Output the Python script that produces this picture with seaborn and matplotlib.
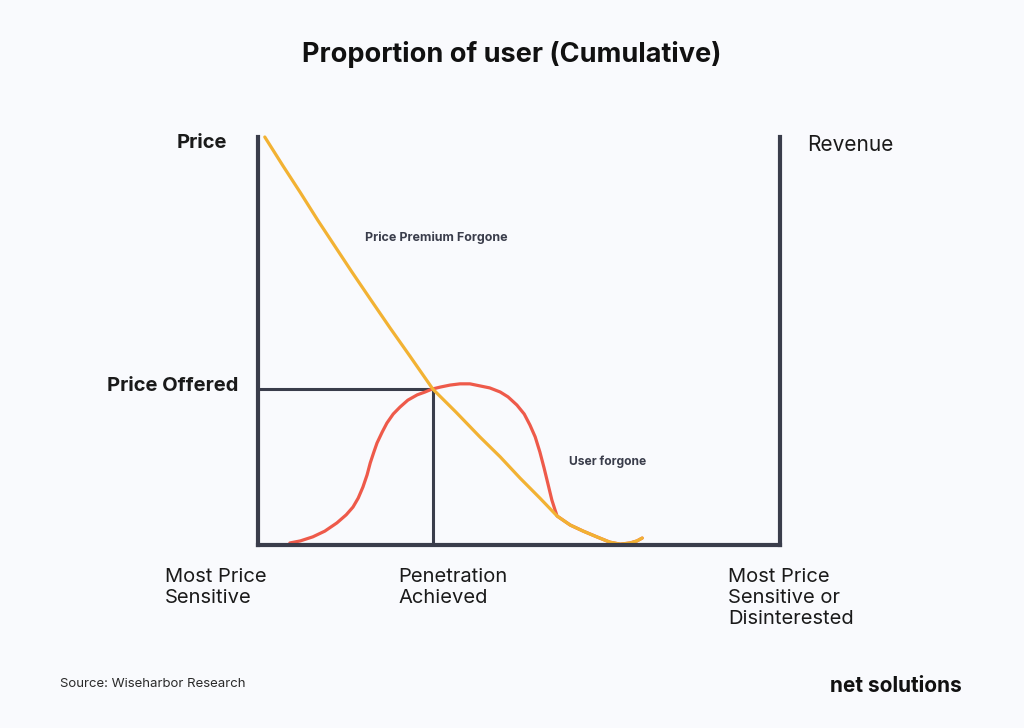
import matplotlib
matplotlib.use("Agg")
import matplotlib.pyplot as plt
import seaborn as sns

# price curve (yellow): share of users 0..1 vs price 0..1
price_x = [0.013, 0.048, 0.081, 0.115, 0.148, 0.180, 0.215, 0.253, 0.291,
           0.335, 0.379, 0.425, 0.464, 0.502, 0.540, 0.573, 0.598, 0.623,
           0.649, 0.674, 0.694, 0.713, 0.726, 0.736]
price_y = [1.000, 0.929, 0.864, 0.795, 0.731, 0.669, 0.603, 0.532, 0.463,
           0.382, 0.326, 0.265, 0.216, 0.164, 0.115, 0.071, 0.049, 0.034,
           0.020, 0.007, 0.002, 0.005, 0.010, 0.017]

# revenue curve (red)
revenue_x = [0.061, 0.081, 0.105, 0.128, 0.151, 0.169, 0.182, 0.192, 0.201,
             0.209, 0.215, 0.222, 0.228, 0.238, 0.247, 0.259, 0.272, 0.287,
             0.305, 0.320, 0.333, 0.349, 0.368, 0.387, 0.406, 0.425, 0.444,
             0.464, 0.479, 0.496, 0.510, 0.521, 0.531, 0.540, 0.548, 0.556,
             0.563, 0.569, 0.573, 0.598, 0.623, 0.649, 0.674, 0.694, 0.713,
             0.726, 0.736]
revenue_y = [0.005, 0.010, 0.020, 0.034, 0.054, 0.074, 0.093, 0.115, 0.142,
             0.172, 0.201, 0.228, 0.250, 0.277, 0.299, 0.321, 0.338, 0.355,
             0.368, 0.375, 0.382, 0.387, 0.392, 0.395, 0.395, 0.390, 0.385,
             0.375, 0.363, 0.343, 0.321, 0.294, 0.265, 0.228, 0.189, 0.147,
             0.110, 0.086, 0.071, 0.049, 0.034, 0.020, 0.007, 0.002, 0.005,
             0.010, 0.017]

# price offered / penetration achieved point
offered_x = 0.335
offered_price = 0.382

bottom_labels = ["Most Price\nSensitive", "Penetration\nAchieved",
                 "Most Price\nSensitive or\nDisinterested"]

BG = "#f9fafd"
DARK = "#3a3d4b"
YELLOW = "#f2b233"
RED = "#ee5a4a"

sns.set_style("white")
plt.rcParams['font.family'] = ['Inter', 'DejaVu Sans']

W, H = 1024, 728
fig = plt.figure(figsize=(W / 100, H / 100), dpi=100, facecolor=BG)


def px(x, y):
    return x / W, 1 - y / H


ax = fig.add_axes([258 / W, 1 - 545 / H, 522 / W, 408 / H])
ax.set_facecolor(BG)
ax.set_xlim(0, 1)
ax.set_ylim(0, 1)
for side in ["left", "right", "bottom"]:
    ax.spines[side].set_color(DARK)
    ax.spines[side].set_linewidth(3)
ax.spines["top"].set_visible(False)
ax.set_xticks([])
ax.set_yticks([])

# price offered guide lines
ax.plot([0, offered_x], [offered_price, offered_price], color=DARK, lw=2.2)
ax.plot([offered_x, offered_x], [0, offered_price], color=DARK, lw=2.2)

sns.lineplot(x=revenue_x, y=revenue_y, ax=ax, color=RED, lw=2.3,
             estimator=None, sort=False)
sns.lineplot(x=price_x, y=price_y, ax=ax, color=YELLOW, lw=2.3,
             estimator=None, sort=False)
for line in ax.lines:
    line.set_clip_on(False)
    line.set_solid_capstyle("round")
    line.set_solid_joinstyle("round")

ax.set_xlabel("")
ax.set_ylabel("")

fig.text(*px(512, 55), "Proportion of user (Cumulative)", ha="center",
         va="center", fontsize=19.5, fontweight="bold", color="#111111")
fig.text(*px(177, 143), "Price", ha="left", va="center", fontsize=14.5,
         fontweight="bold", color="#1a1a1a")
fig.text(*px(238, 386), "Price Offered", ha="right", va="center", fontsize=14.5,
         fontweight="bold", color="#1a1a1a")
fig.text(*px(807, 145), "Revenue", ha="left", va="center", fontsize=15,
         color="#1a1a1a")
fig.text(*px(365, 238), "Price Premium Forgone", ha="left", va="center",
         fontsize=9, fontweight="bold", color="#3a3d4b")
fig.text(*px(569, 462), "User forgone", ha="left", va="center",
         fontsize=8.7, fontweight="bold", color="#3a3d4b")

for x0, lab in zip([165, 398, 728], bottom_labels):
    fig.text(*px(x0, 568), lab, ha="left", va="top", fontsize=14.5,
             color="#1a1a1a", linespacing=1.2)

fig.text(*px(60, 684), "Source: Wiseharbor Research", ha="left", va="center",
         fontsize=9.5, color="#2a2a2a")
fig.text(*px(830, 686), "net solutions", ha="left", va="center",
         fontsize=15, fontweight="bold", color="#111111")

fig.savefig("out.png", dpi=100, facecolor=BG)
